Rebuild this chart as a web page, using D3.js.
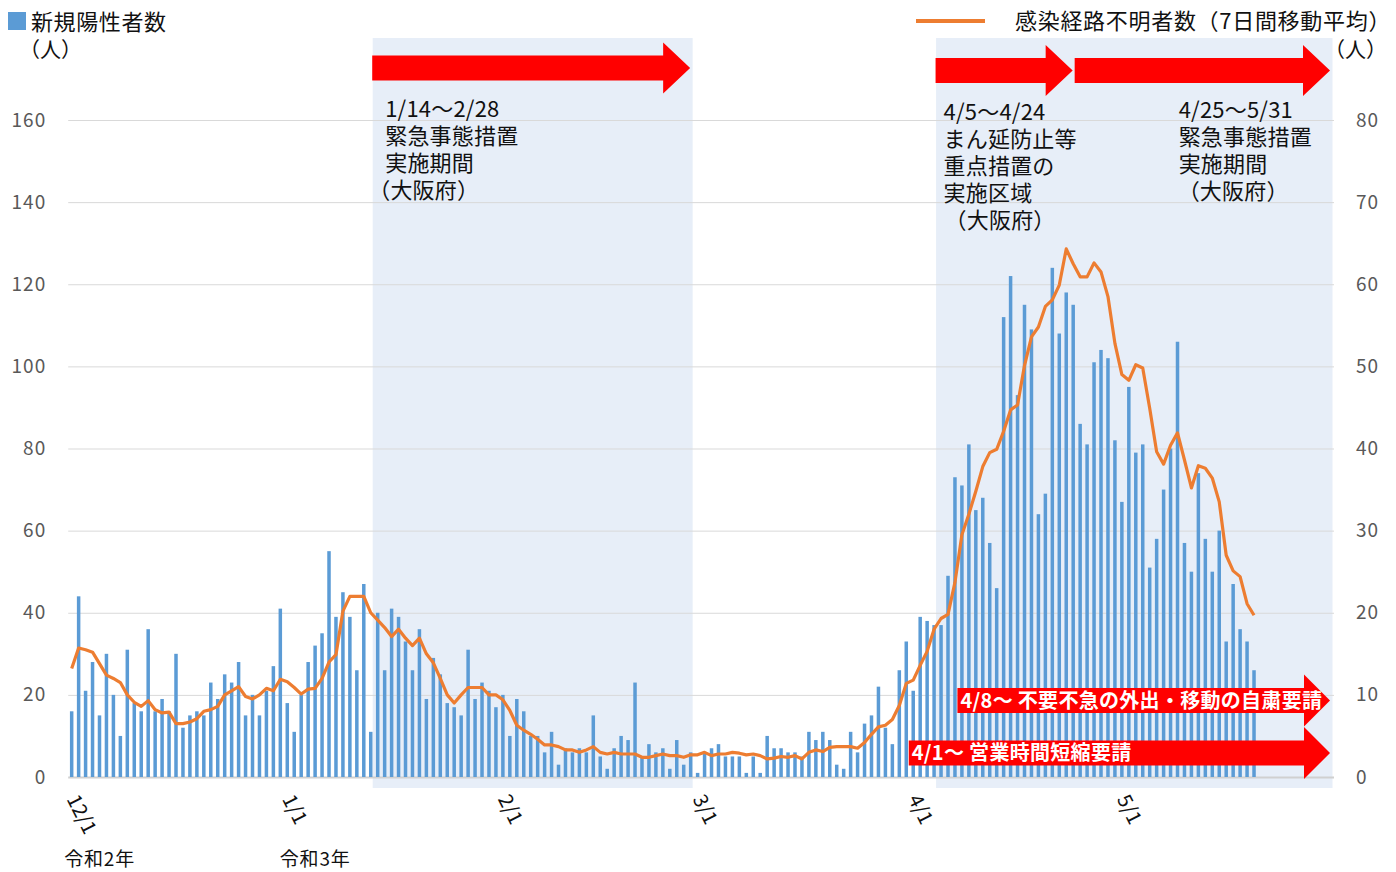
<!DOCTYPE html>
<html><head><meta charset="utf-8">
<script src="https://cdn.jsdelivr.net/npm/d3@7"></script>
<style>
body{margin:0;background:#fff}
svg{display:block}
text{font-family:"Noto Sans CJK JP","Noto Sans",sans-serif}
</style>
</head><body>
<svg id="chart" width="1396" height="872"></svg>
<script>
// ---------------- data ----------------
const startDate = "2020-12-01";
const endDate = "2021-05-31";

// 新規陽性者数 (daily, 12/1 .. 5/20)
const newCasesDec = [16,44,21,28,15,30,20,10,31,18,16,36,16,19,16,30,12,15,16,15,23,19,25,23,28,15,20,15,21,27,41];
const newCasesJan = [18,11,20,28,32,35,55,39,45,39,26,47,11,40,26,41,39,33,26,36,19,29,25,18,17,15,31,19,23,21,17];
const newCasesFeb = [20,10,19,16,10,10,6,11,3,7,6,7,6,15,5,2,7,10,9,23,5,8,6,7,2,9,3,6];
const newCasesMar = [1,6,7,8,5,5,5,1,5,1,10,7,7,6,6,5,11,9,11,9,3,2,11,6,13,15,22,12,8,26,33];
const newCasesApr = [21,39,38,37,37,49,73,71,81,65,68,57,46,112,122,93,115,109,64,69,124,108,118,115,86,81,101,104,102,82];
const newCasesMay = [67,95,79,81,51,58,70,80,106,57,50,74,58,50,60,33,47,36,33,26];

// 感染経路不明者数（7日間移動平均） (right axis)
const unknownDec = [13.2,15.7,15.5,15.2,13.8,12.4,12.0,11.5,10.0,9.1,8.6,9.3,8.2,7.8,7.9,6.5,6.5,6.7,7.1,8.0,8.2,8.6,10.0,10.5,11.0,9.8,9.5,10.0,10.8,10.5,11.9];
const unknownJan = [11.6,10.9,10.1,10.7,10.8,12.0,14.0,14.9,20.2,22.0,22.0,22.0,20.0,19.1,18.2,17.1,18.0,16.9,16.0,16.9,15.0,13.9,12.0,10.0,9.0,10.0,10.9,10.9,10.9,10.0,10.0];
const unknownFeb = [9.4,8.1,6.3,5.7,5.2,4.6,3.9,3.9,3.7,3.3,3.3,3.0,3.3,3.7,3.0,2.8,3.0,2.8,2.8,2.8,2.4,2.4,2.6,2.8,2.6,2.6,2.4,2.7];
const unknownMar = [2.7,3.0,2.6,2.8,2.8,3.0,2.9,2.7,2.8,2.6,2.2,2.3,2.5,2.4,2.6,2.2,3.0,3.3,3.1,3.6,3.7,3.7,3.7,3.5,4.2,5.2,6.1,6.3,7.0,8.7,11.4];
const unknownApr = [11.8,13.6,15.3,18.0,19.3,19.8,23.7,29.5,32.0,34.8,37.8,39.5,39.9,42.1,44.7,45.3,50.1,53.6,54.8,57.3,58.1,59.9,64.3,62.5,60.9,60.9,62.6,61.5,58.5,52.8];
const unknownMay = [49.0,48.3,50.2,49.8,44.9,39.6,38.1,40.4,41.9,38.6,35.2,37.9,37.6,36.4,33.5,27.0,25.1,24.4,21.1,19.7];

const leftTicks = [0,20,40,60,80,100,120,140,160];
const rightTicks = [0,10,20,30,40,50,60,70,80];
const xTickDates = ["2020-12-01","2021-01-01","2021-02-01","2021-03-01","2021-04-01","2021-05-01"];
const eraLabels = [{date:"2020-12-01", text:"令和2年"},{date:"2021-01-01", text:"令和3年"}];

const shadedPeriods = [["2021-01-14","2021-02-28"],["2021-04-05","2021-05-31"]];
const topArrows = [
  {from:"2021-01-14", to:"2021-02-28", lines:["1/14～2/28","緊急事態措置","実施期間","（大阪府）"]},
  {from:"2021-04-05", to:"2021-04-24", lines:["4/5～4/24","まん延防止等","重点措置の","実施区域","（大阪府）"]},
  {from:"2021-04-25", to:"2021-05-31", lines:["4/25～5/31","緊急事態措置","実施期間","（大阪府）"]}
];
const bottomArrows = [
  {from:"2021-04-08", to:"2021-05-31", text:"4/8～ 不要不急の外出・移動の自粛要請", row:0},
  {from:"2021-04-01", to:"2021-05-31", text:"4/1～ 営業時間短縮要請", row:1}
];

// ---------------- setup ----------------
const parse = d3.utcParse("%Y-%m-%d");
const days = d3.utcDay.range(parse(startDate), d3.utcDay.offset(parse(endDate), 1));
const newCases = [].concat(newCasesDec,newCasesJan,newCasesFeb,newCasesMar,newCasesApr,newCasesMay);
const unknown = [].concat(unknownDec,unknownJan,unknownFeb,unknownMar,unknownApr,unknownMay);
const caseData = newCases.map((v,i)=>({d:days[i], v}));
const lineData = unknown.map((v,i)=>({d:days[i], v}));

const svg = d3.select("#chart");
const plotLeft = 68.2, plotRight = 1334, yTop = 120, yBottom = 777;

const x = d3.scaleBand().domain(days.map(d=>+d)).range([plotLeft, plotRight]).padding(0);
const bw = x.bandwidth();
const xc = d => x(+d) + bw/2;
const yL = d3.scaleLinear().domain([0,160]).range([yBottom, yTop]);
const yR = d3.scaleLinear().domain([0,80]).range([yBottom, yTop]);

// shaded bands
svg.append("g").selectAll("rect").data(shadedPeriods).join("rect")
  .attr("x", d => x(+parse(d[0])) - 1.5)
  .attr("width", d => x(+parse(d[1])) + bw - x(+parse(d[0])))
  .attr("y", 38).attr("height", 788-38)
  .attr("fill", "#e7eef8");

// gridlines + left axis
const gAxisL = svg.append("g").attr("transform", `translate(${plotLeft},0)`)
  .call(d3.axisLeft(yL).tickValues(leftTicks).tickSize(-(plotRight-plotLeft)).tickPadding(22));
gAxisL.select(".domain").remove();
gAxisL.selectAll(".tick line").attr("stroke", "#d9d9d9").attr("stroke-width", 1);
gAxisL.selectAll(".tick text").attr("fill", "#595959").attr("font-size", 19)
  .attr("letter-spacing", 1)
  .attr("font-family", "'Noto Sans CJK JP', sans-serif");
gAxisL.selectAll(".tick").filter(d=>d===0).select("line").attr("stroke","#d0d0d0").attr("stroke-width",2);

const gAxisR = svg.append("g").attr("transform", `translate(${plotRight},0)`)
  .call(d3.axisRight(yR).tickValues(rightTicks).tickSize(0).tickPadding(22));
gAxisR.select(".domain").remove();
gAxisR.selectAll(".tick text").attr("fill", "#595959").attr("font-size", 19)
  .attr("letter-spacing", 1)
  .attr("font-family", "'Noto Sans CJK JP', sans-serif");

// bars
const barW = 3.5;
svg.append("g").selectAll("rect").data(caseData).join("rect")
  .attr("x", d => xc(d.d) - barW/2)
  .attr("width", barW)
  .attr("y", d => yL(d.v))
  .attr("height", d => yL(0) - yL(d.v))
  .attr("fill", "#5b9bd5");

// line
svg.append("path").datum(lineData)
  .attr("d", d3.line().x(d => xc(d.d)).y(d => yR(d.v)))
  .attr("fill", "none").attr("stroke", "#ed7d31").attr("stroke-width", 3.2)
  .attr("stroke-linejoin", "round");

// arrow helper
function arrow(x0, x1, yc, bodyH, headH, headL){
  const b = bodyH/2, h = headH/2;
  return `M${x0},${yc-b}L${x1-headL},${yc-b}L${x1-headL},${yc-h}L${x1},${yc}L${x1-headL},${yc+h}L${x1-headL},${yc+b}L${x0},${yc+b}Z`;
}

// top arrows & annotations
const gTop = svg.append("g");
const annStyle = [
  {ty:68, dx:11, y0:117, parenDx:-17},
  {ty:70.5, dx:6, y0:120, parenDx:1},
  {ty:70.5, dx:102, y0:118, parenDx:-1}
];
topArrows.forEach((a,i) => {
  const st = annStyle[i];
  const x0 = x(+parse(a.from)) - 2;
  const x1 = x(+parse(a.to)) + bw - 4;
  gTop.append("path").attr("d", arrow(x0, x1, st.ty, 25, 51, 27)).attr("fill", "#ff0000");
  const tx = x0 + 2 + st.dx;
  a.lines.forEach((ln,k) => {
    gTop.append("text").attr("x", tx + (ln.startsWith("（") ? st.parenDx : 0))
      .attr("y", st.y0 + k*27)
      .attr("font-size", 22).attr("letter-spacing", 0.2).attr("fill", "#111").text(ln);
  });
});

// bottom arrows
const gBot = svg.append("g");
bottomArrows.forEach(a => {
  const x0 = x(+parse(a.from)) - 1;
  const x1 = x(+parse(a.to)) + bw - 4;
  const yc = a.row===0 ? 700.5 : 753;
  gBot.append("path").attr("d", arrow(x0, x1, yc, 25, 52, 26)).attr("fill", "#ff0000");
  gBot.append("text").attr("x", x0+3).attr("y", yc+7)
    .attr("font-size", 20).attr("letter-spacing", 0.3).attr("font-weight", "bold").attr("fill", "#fff").text(a.text);
});

// x tick labels (rotated)
const gX = svg.append("g");
xTickDates.forEach(s => {
  const d = parse(s);
  const px = x(+d) - 2;
  gX.append("text").attr("transform", `translate(${px},799) rotate(63)`)
    .attr("font-size", 20).attr("fill", "#111")
    .text(d3.utcFormat("%-m/%-d")(d));
});
eraLabels.forEach(e => {
  gX.append("text").attr("x", x(+parse(e.date)) - 4).attr("y", 866)
    .attr("font-size", 19).attr("letter-spacing", 0.8).attr("fill", "#111").text(e.text);
});

// legends
svg.append("rect").attr("x", 8).attr("y", 12).attr("width", 18).attr("height", 18).attr("fill", "#5b9bd5");
svg.append("text").attr("x", 31).attr("y", 30).attr("font-size", 22).attr("letter-spacing", 0.6).attr("fill", "#111").text("新規陽性者数");
svg.append("text").attr("x", 19).attr("y", 57).attr("font-size", 21).attr("fill", "#111").text("（人）");

svg.append("line").attr("x1", 916).attr("x2", 985).attr("y1", 21).attr("y2", 21)
  .attr("stroke", "#ed7d31").attr("stroke-width", 4);
svg.append("text").attr("x", 1015).attr("y", 29).attr("font-size", 22).attr("letter-spacing", 0.7).attr("fill", "#111")
  .text("感染経路不明者数（7日間移動平均）");
svg.append("text").attr("x", 1324).attr("y", 57).attr("font-size", 21).attr("fill", "#111").text("（人）");
</script>
</body></html>
